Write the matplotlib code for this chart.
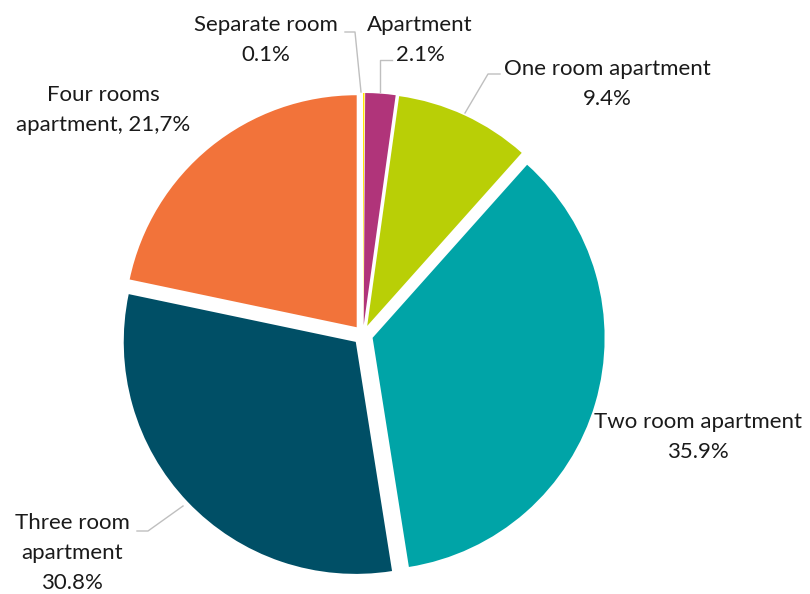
import matplotlib.pyplot as plt

# data
labels = ['Separate room', 'Apartment', 'One room apartment', 'Two room apartment',
          'Three room apartment', 'Four rooms apartment']
shares = [0.1, 2.1, 9.4, 35.9, 30.8, 21.7]
colors = ['#FFE600', '#B0347A', '#B9CF06', '#00A4A7', '#004F66', '#F2733A']
label_texts = ['Separate room\n0.1%', 'Apartment\n2.1%', 'One room apartment\n9.4%',
               'Two room apartment\n35.9%', 'Three room\napartment\n30.8%',
               'Four rooms\napartment, 21,7%']

plt.rcParams['font.family'] = ['Lato', 'DejaVu Sans']

W, H = 810, 594
fig = plt.figure(figsize=(W / 100, H / 100), dpi=100)
ax = fig.add_axes([0, 0, 1, 1])

# pie drawn in pixel coords (y flipped, so counterclock=True runs clockwise on screen)
# explode is in data units here (pixels)
cx, cy, r = 363, 335, 232
ax.pie(shares, colors=colors, startangle=-90, counterclock=True,
       explode=[10] * len(shares), radius=r, center=(cx, cy),
       wedgeprops=dict(linewidth=0), frame=True)
ax.set_xlim(0, W)
ax.set_ylim(H, 0)
ax.set_aspect('auto')
ax.axis('off')

# labels
pos = [(266, 40), (420, 40), (607, 84), (698, 437), (72, 553), (103, 110)]
for (x, y), t in zip(pos, label_texts):
    ax.text(x, y, t, ha='center', va='center', fontsize=16, color='#1a1a1a',
            linespacing=1.6)

# leader lines
lc = '#BFBFBF'
ax.plot([345, 355, 361], [32, 32, 92], color=lc, lw=1)
ax.plot([392, 380, 380], [60, 60, 92], color=lc, lw=1)
ax.plot([500, 488, 465], [74, 74, 113], color=lc, lw=1)
ax.plot([137, 148, 183], [531, 531, 506], color=lc, lw=1)

fig.savefig('out.png', dpi=100)
